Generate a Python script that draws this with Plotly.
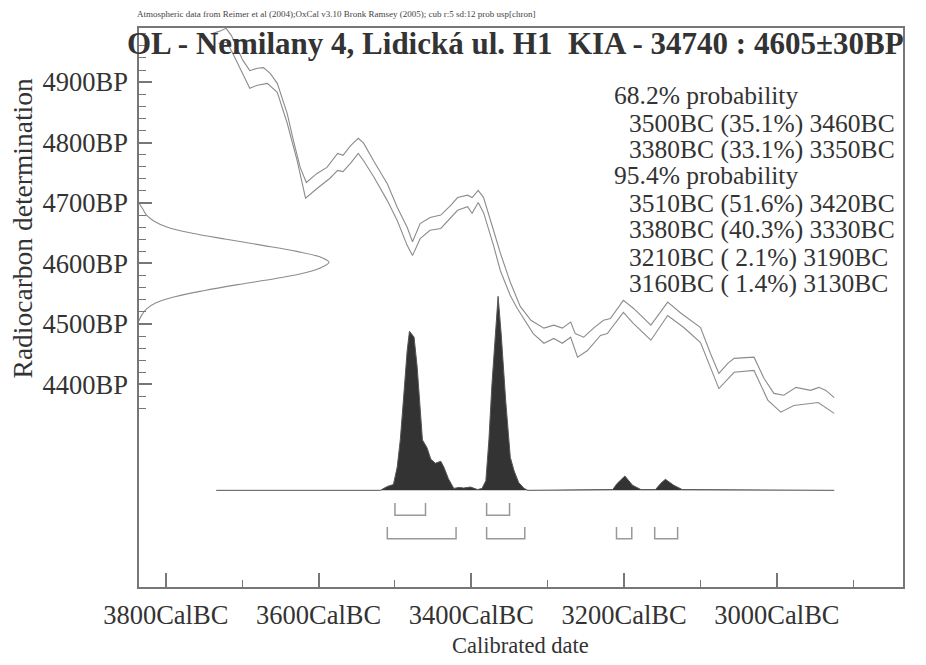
import plotly.graph_objects as go

# ---------------- data ----------------
# calibration curve (upper / lower 1-sigma envelope), calendar years BC vs BP
upper_years = [3738,3730,3721,3714,3707,3699,3690,3680,3672,3663,3654,3641,3633,3624,3616,3602,3589,3575,3568,3558,3548,3541,3528,3510,3497,3484,3477,3467,3454,3440,3427,3418,3405,3399,3391,3384,3371,3362,3349,3336,3322,3305,3292,3281,3270,3264,3253,3240,3227,3218,3201,3188,3165,3143,3126,3110,3100,3087,3076,3064,3056,3030,3017,3004,2991,2975,2965,2956,2945,2936,2925]
upper_bp = [4981,4984,4989,4977,4957,4936,4919,4923,4924,4914,4898,4848,4804,4759,4734,4749,4759,4782,4779,4795,4807,4799,4770,4732,4693,4660,4636,4666,4676,4680,4696,4709,4713,4709,4721,4709,4655,4617,4569,4529,4506,4493,4498,4493,4503,4484,4478,4493,4506,4509,4539,4526,4498,4536,4518,4503,4494,4451,4418,4435,4443,4445,4410,4385,4382,4395,4393,4390,4395,4390,4378]

lower_years = [3731,3720,3712,3699,3690,3680,3667,3654,3641,3628,3617,3602,3585,3575,3568,3558,3548,3541,3528,3510,3497,3484,3477,3467,3454,3440,3427,3418,3405,3399,3391,3384,3371,3362,3349,3340,3319,3305,3292,3281,3270,3261,3248,3231,3222,3201,3188,3165,3143,3122,3100,3076,3056,3030,3012,2995,2978,2946,2925]
lower_bp = [4964,4966,4947,4914,4890,4895,4898,4883,4832,4770,4708,4724,4741,4754,4752,4766,4782,4770,4744,4704,4671,4630,4613,4641,4655,4658,4675,4688,4694,4683,4701,4684,4630,4588,4547,4526,4484,4468,4476,4468,4478,4445,4456,4481,4484,4519,4501,4473,4514,4494,4469,4393,4420,4423,4374,4354,4365,4370,4352]

# radiocarbon measurement distribution (relative density vs BP)
c14_bp = [4700,4690,4680,4670,4660,4650,4640,4630,4620,4610,4602,4595,4585,4575,4565,4555,4545,4535,4525,4515,4505]
c14_density = [0.00,0.02,0.04,0.08,0.15,0.28,0.46,0.65,0.83,0.96,1.00,0.97,0.88,0.72,0.52,0.34,0.19,0.09,0.04,0.015,0.00]

# calibrated probability distribution (relative density vs year BC)
prob_years = [3734,3519,3510,3502,3497,3493,3489,3484,3481,3475,3471,3467,3464,3458,3453,3447,3440,3436,3430,3423,3416,3410,3401,3392,3386,3381,3377,3373,3368,3365,3361,3355,3349,3344,3338,3331,3326,3215,3209,3199,3189,3178,3159,3152,3146,3135,3124,2925]
prob_density = [0,0,0.02,0.03,0.12,0.26,0.46,0.72,0.82,0.79,0.64,0.41,0.26,0.22,0.16,0.14,0.15,0.12,0.06,0.01,0.015,0.012,0.017,0.004,0.01,0.05,0.26,0.55,0.84,1.0,0.81,0.46,0.17,0.10,0.04,0.01,0,0.004,0.036,0.074,0.026,0.004,0.004,0.036,0.057,0.026,0.004,0]

# highest probability ranges
r68_from = [3500, 3380]
r68_to = [3460, 3350]
r68_pct = [35.1, 33.1]
r95_from = [3510, 3380, 3210, 3160]
r95_to = [3420, 3330, 3190, 3130]
r95_pct = [51.6, 40.3, 2.1, 1.4]

# axis ticks
x_tick_vals = [3800, 3600, 3400, 3200, 3000]
x_tick_text = ["3800CalBC", "3600CalBC", "3400CalBC", "3200CalBC", "3000CalBC"]
x_minor_vals = [3700, 3500, 3300, 3100, 2900]
y_tick_vals = [4400, 4500, 4600, 4700, 4800, 4900]
y_tick_text = ["4400BP", "4500BP", "4600BP", "4700BP", "4800BP", "4900BP"]
y_minor_vals = list(range(4360, 4981, 20))

title_text = "OL - Nemilany 4, Lidická ul. H1  KIA - 34740 : 4605±30BP"
sub_text = "Atmospheric data from Reimer et al (2004);OxCal v3.10 Bronk Ramsey (2005); cub r:5 sd:12 prob usp[chron]"

# ---------------- figure ----------------
FONT = "Liberation Serif"
TXT = "#333333"
CURVE = "#8c8c8c"

fig = go.Figure()

fig.add_trace(go.Scatter(x=upper_years, y=upper_bp, mode="lines",
                         line=dict(color=CURVE, width=1.1), hoverinfo="skip"))
fig.add_trace(go.Scatter(x=lower_years, y=lower_bp, mode="lines",
                         line=dict(color=CURVE, width=1.1), hoverinfo="skip"))

fig.add_trace(go.Scatter(x=c14_density, y=c14_bp, xaxis="x2", yaxis="y", mode="lines",
                         line=dict(color=CURVE, width=1.1, shape="spline"), hoverinfo="skip"))

fig.add_trace(go.Scatter(x=prob_years, y=prob_density, xaxis="x", yaxis="y2", mode="lines",
                         fill="tozeroy", fillcolor="#333333",
                         line=dict(color="#555555", width=1), hoverinfo="skip"))

def brackets(froms, tos, top, bottom):
    xs, ys = [], []
    for a, b in zip(froms, tos):
        xs += [a, a, b, b, None]
        ys += [top, bottom, bottom, top, None]
    return xs, ys

bx, by = brackets(r68_from, r68_to, -0.065, -0.129)
fig.add_trace(go.Scatter(x=bx, y=by, xaxis="x", yaxis="y2", mode="lines",
                         line=dict(color="#999999", width=1.5), hoverinfo="skip"))
bx, by = brackets(r95_from, r95_to, -0.189, -0.249)
fig.add_trace(go.Scatter(x=bx, y=by, xaxis="x", yaxis="y2", mode="lines",
                         line=dict(color="#999999", width=1.5), hoverinfo="skip"))

# ---------------- layout ----------------
# the page body adds an 8px offset; positions below are given in window pixels
OFF = 8
W, H = 926 - 2 * OFF, 665 - 2 * OFF
L = 139 - OFF
T = 27.5 - OFF
R = W - (903 - OFF)
B = H - (586.7 - OFF)
PW, PH = W - L - R, H - T - B

def px(xp):
    return (xp - OFF - L) / PW

def py(yp):
    return (H - B - (yp - OFF)) / PH

fig.update_layout(
    width=W, height=H,
    margin=dict(l=L, r=R, t=T, b=B, autoexpand=False),
    paper_bgcolor="white", plot_bgcolor="white",
    showlegend=False,
    font=dict(family=FONT, color=TXT),
    xaxis=dict(range=[3835, 2835], tickmode="array", tickvals=x_tick_vals, ticktext=x_tick_text,
               ticks="inside", ticklen=14, tickwidth=1.5, tickcolor="#777777",
               minor=dict(tickmode="array", tickvals=x_minor_vals, ticks="inside", ticklen=7,
                          tickwidth=1.2, tickcolor="#777777", showgrid=False),
               showline=True, linecolor="#777777", linewidth=1.5, mirror=True,
               showgrid=False, zeroline=False, tickfont=dict(size=26.5, color=TXT, family=FONT),
               ticklabelstandoff=3),
    yaxis=dict(range=[4064.7, 4989.6], tickmode="array", tickvals=y_tick_vals, ticktext=y_tick_text,
               ticks="inside", ticklen=13, tickwidth=1.5, tickcolor="#777777",
               minor=dict(tickmode="array", tickvals=y_minor_vals, ticks="inside", ticklen=7,
                          tickwidth=1.2, tickcolor="#777777", showgrid=False),
               showline=True, linecolor="#777777", linewidth=1.5, mirror=True,
               showgrid=False, zeroline=False, tickfont=dict(size=26.5, color=TXT, family=FONT),
               ticklabelstandoff=4),
    xaxis2=dict(overlaying="x", range=[0, 4.02], visible=False),
    yaxis2=dict(overlaying="y", range=[-0.4983, 2.3835], visible=False),
)

ann = []
ann.append(dict(text="<b>" + title_text + "</b>", x=px(515), y=py(43), xref="paper", yref="paper",
                xanchor="center", yanchor="middle", showarrow=False,
                font=dict(size=31, family=FONT, color=TXT)))
ann.append(dict(text=sub_text, x=px(135), y=py(13.5), xref="paper", yref="paper",
                xanchor="left", yanchor="middle", showarrow=False,
                font=dict(size=9, family=FONT, color="#444444")))
ann.append(dict(text="Radiocarbon determination", x=px(22), y=py(228), xref="paper", yref="paper",
                xanchor="center", yanchor="middle", textangle=-90, showarrow=False,
                font=dict(size=27.5, family=FONT, color=TXT)))
ann.append(dict(text="Calibrated date", x=px(520), y=py(645), xref="paper", yref="paper",
                xanchor="center", yanchor="middle", showarrow=False, borderpad=0,
                font=dict(size=22.5, family=FONT, color=TXT)))

lines = [("68.2% probability", 613)]
for a, b, p in zip(r68_from, r68_to, r68_pct):
    lines.append((f"{a}BC ({p:4.1f}%) {b}BC", 627.7))
lines.append(("95.4% probability", 613))
for a, b, p in zip(r95_from, r95_to, r95_pct):
    lines.append((f"{a}BC ({p:4.1f}%) {b}BC", 627.7))
line_y = [95, 123.3, 149.3, 175, 202.7, 229.3, 256.7, 283.3]
for (t, xl), yl in zip(lines, line_y):
    ann.append(dict(text=t, x=px(xl), y=py(yl), xref="paper", yref="paper",
                    xanchor="left", yanchor="middle", showarrow=False, borderpad=0,
                    font=dict(size=25.5, family=FONT, color=TXT)))

fig.update_layout(annotations=ann)

fig.write_html("out.html")
